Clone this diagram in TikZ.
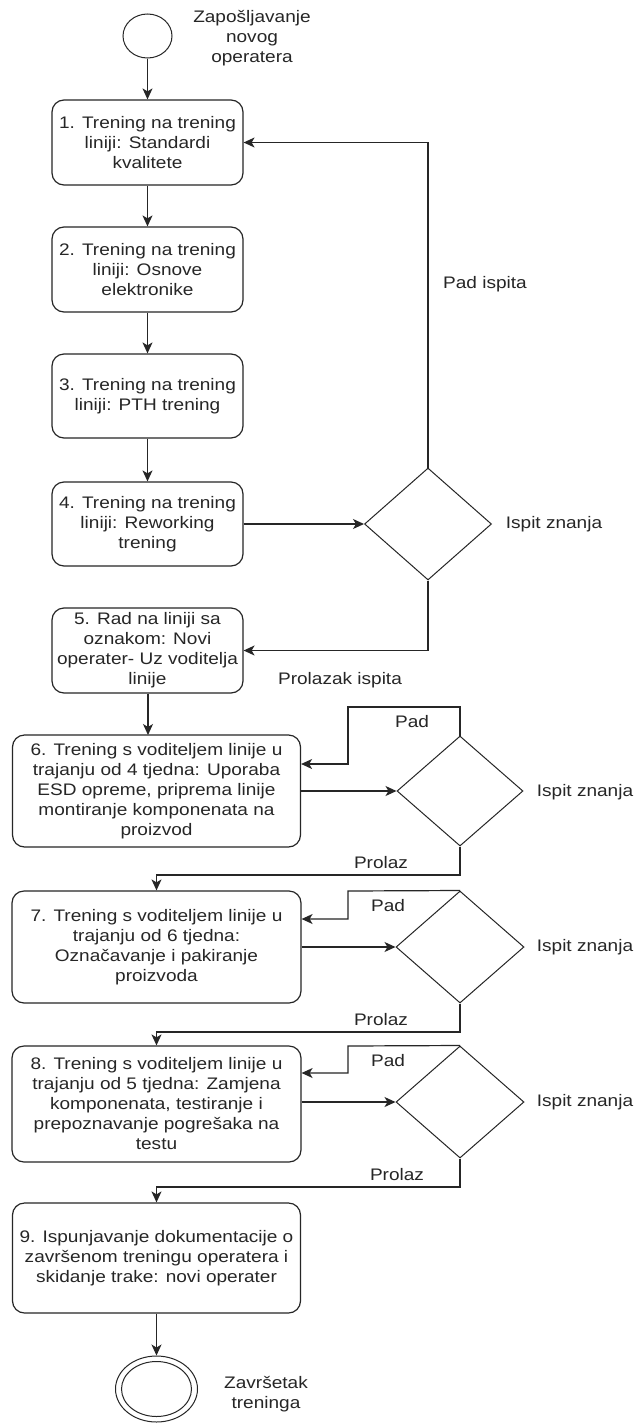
\documentclass[tikz,border=0pt]{standalone}
\usepackage{fontspec}
\setmainfont{Liberation Sans}[FakeStretch=1.14]
\usetikzlibrary{arrows.meta,shapes.geometric}
\definecolor{ink}{RGB}{38,38,38}
\begin{document}
\begin{tikzpicture}[x=1pt,y=-1pt,
  every node/.style={font=\fontsize{16.7}{20}\selectfont, text=ink, inner sep=0pt},
  box/.style={draw=ink, line width=1.2pt, rounded corners=12pt, align=center},
  dia/.style={draw=ink, line width=1pt, diamond, minimum width=127pt, minimum height=112pt},
  lbl/.style={align=center},
  arr/.style={draw=ink, line width=1.2pt, -{Stealth[length=11pt,width=10pt,inset=3pt]}},
  ln/.style={draw=ink, line width=1.2pt}
]
\useasboundingbox[fill=white] (0,0) rectangle (637,1424);

% start
\node[draw=ink, line width=1pt, ellipse, minimum width=49pt, minimum height=44pt] (start) at (147.5,36) {};
\node[lbl] (startlbl) at (252,38) {Zapošljavanje\\novog\\operatera};

% boxes 1-5
\node[box, minimum width=191pt, minimum height=85pt] (b1) at (147.5,142.5) {1. Trening na trening\\liniji: Standardi\\kvalitete};
\node[box, minimum width=191pt, minimum height=85pt] (b2) at (147.5,269.5) {2. Trening na trening\\liniji: Osnove\\elektronike};
\node[box, minimum width=191pt, minimum height=84pt] (b3) at (147.5,396) {3. Trening na trening\\liniji: PTH trening};
\node[box, minimum width=191pt, minimum height=84pt] (b4) at (147.5,524) {4. Trening na trening\\liniji: Reworking\\trening};
\node[box, minimum width=191pt, minimum height=85pt] (b5) at (147.5,650.5) {5. Rad na liniji sa\\oznakom: Novi\\operater- Uz voditelja\\linije};

% diamond 1
\node[dia] (d1) at (428,524) {};
\node[lbl] (d1lbl) at (554,524) {Ispit znanja};
\node[lbl] (padisp) at (485,284) {Pad ispita};
\node[lbl] (prolisp) at (340,680) {Prolazak ispita};

\draw[arr] (start) -- (b1);
\draw[arr] (b1) -- (b2);
\draw[arr] (b2) -- (b3);
\draw[arr] (b3) -- (b4);
\draw[arr] (b4) -- (d1);
\draw[arr] (d1.north) |- (b1.east);
\draw[arr] (d1.south) |- (b5.east);

% box 6
\node[box, minimum width=288pt, minimum height=112pt] (b6) at (156.5,791) {6. Trening s voditeljem linije u\\trajanju od 4 tjedna: Uporaba\\ESD opreme, priprema linije\\montiranje komponenata na\\proizvod};
\node[dia, minimum width=126pt, minimum height=110pt] (d2) at (460,791) {};
\node[lbl] (d2lbl) at (585,792) {Ispit znanja};
\node[lbl] (pad6) at (412,722) {Pad};
\node[lbl] (prol6) at (381,863) {Prolaz};
\coordinate (p6a) at (348,707);
\coordinate (p6b) at (348,764);
\coordinate (q6) at (156.5,875);

\draw[arr] (b5.south -| 148,0) -- (148,735);
\draw[arr] (b6) -- (d2);
\draw[arr] (d2.north) |- (p6a) -- (p6b) -- (b6.east |- p6b);

% box 7
\node[box, minimum width=289pt, minimum height=112pt] (b7) at (156.5,947) {7. Trening s voditeljem linije u\\trajanju od 6 tjedna:\\Označavanje i pakiranje\\proizvoda};
\node[dia, minimum width=128pt, minimum height=112pt] (d3) at (460,947) {};
\node[lbl] (d3lbl) at (585,947) {Ispit znanja};
\node[lbl] (pad7) at (388,906) {Pad};
\node[lbl] (prol7) at (381,1020) {Prolaz};
\coordinate (p7a) at (348,891);
\coordinate (p7b) at (348,919);
\coordinate (q7) at (156.5,1032);

\draw[arr] (d2.south) |- (q6) -- (b7.north);
\draw[arr] (b7) -- (d3);
\draw[arr] (d3.north) -- (p7a) -- (p7b) -- (b7.east |- p7b);

% box 8
\node[box, minimum width=289pt, minimum height=116pt] (b8) at (156.5,1104) {8. Trening s voditeljem linije u\\trajanju od 5 tjedna: Zamjena\\komponenata, testiranje i\\prepoznavanje pogrešaka na\\testu};
\node[dia, minimum width=128pt, minimum height=112pt] (d4) at (460,1102) {};
\node[lbl] (d4lbl) at (585,1102) {Ispit znanja};
\node[lbl] (pad8) at (388,1061) {Pad};
\node[lbl] (prol8) at (397,1175) {Prolaz};
\coordinate (p8a) at (348,1046);
\coordinate (p8b) at (348,1073);
\coordinate (q8) at (156.5,1187);

\draw[arr] (d3.south) |- (q7) -- (b8.north);
\draw[arr] (b8.east |- d4.west) -- (d4.west);
\draw[arr] (d4.north) -- (p8a) -- (p8b) -- (b8.east |- p8b);

% box 9
\node[box, minimum width=288pt, minimum height=110pt] (b9) at (156.5,1258) {9. Ispunjavanje dokumentacije o\\završenom treningu operatera i\\skidanje trake: novi operater};
\draw[arr] (d4.south) |- (q8) -- (b9.north);

% end
\node[draw=ink, line width=1pt, ellipse, minimum width=82pt, minimum height=66pt] (endo) at (156.5,1389) {};
\node[draw=ink, line width=1pt, ellipse, minimum width=70pt, minimum height=55pt] (endi) at (156.5,1389) {};
\node[lbl] (endlbl) at (266,1394) {Završetak\\treninga};
\draw[arr] (b9) -- (endo);
\end{tikzpicture}
\end{document}
